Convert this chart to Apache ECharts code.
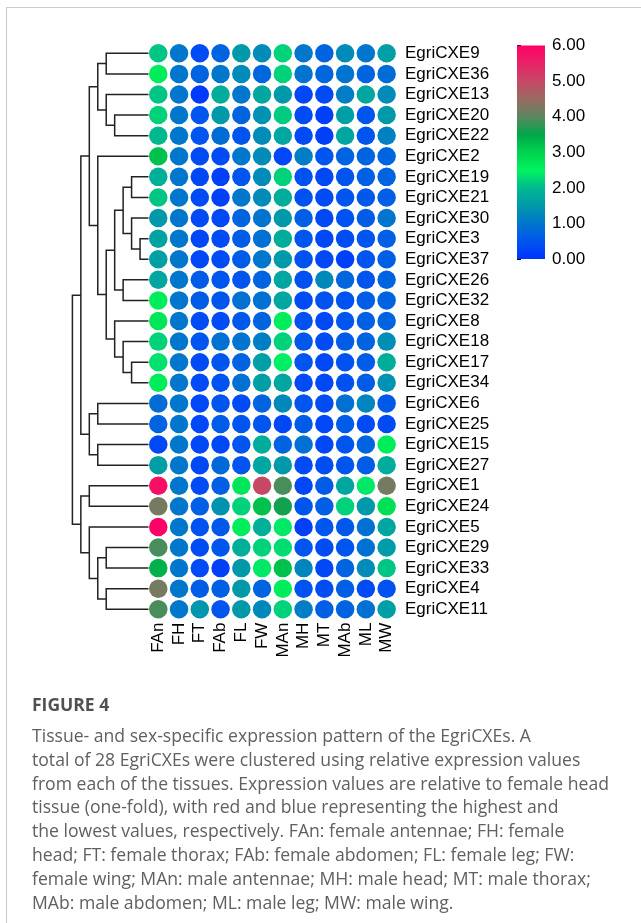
<!DOCTYPE html>
<html>
<head>
    <meta charset="utf-8">
    <script src="https://cdn.jsdelivr.net/npm/echarts@6/dist/echarts.min.js"></script>
</head>
<body style="margin:0;background:#fff">
<div id="main" style="width:641px;height:923px"></div>
<script type="text/javascript">
    // genes in row order (top to bottom), tissues in column order
    var genes = ['EgriCXE9', 'EgriCXE36', 'EgriCXE13', 'EgriCXE20', 'EgriCXE22', 'EgriCXE2', 'EgriCXE19',
        'EgriCXE21', 'EgriCXE30', 'EgriCXE3', 'EgriCXE37', 'EgriCXE26', 'EgriCXE32', 'EgriCXE8', 'EgriCXE18',
        'EgriCXE17', 'EgriCXE34', 'EgriCXE6', 'EgriCXE25', 'EgriCXE15', 'EgriCXE27', 'EgriCXE1', 'EgriCXE24',
        'EgriCXE5', 'EgriCXE29', 'EgriCXE33', 'EgriCXE4', 'EgriCXE11'];
    var tissues = ['FAn', 'FH', 'FT', 'FAb', 'FL', 'FW', 'MAn', 'MH', 'MT', 'MAb', 'ML', 'MW'];

    // relative expression, one row per gene
    var expression = [
        [2.1, 1.0, 0.35, 0.7, 1.5, 1.3, 2.2, 1.0, 0.7, 1.3, 1.0, 1.6],
        [2.6, 1.0, 0.7, 1.0, 1.3, 0.75, 2.2, 0.95, 0.75, 0.95, 0.7, 0.85],
        [2.1, 1.0, 0.1, 1.8, 1.0, 1.7, 1.5, 0.3, 0.35, 1.1, 1.7, 1.3],
        [2.2, 1.0, 0.5, 1.5, 0.7, 1.4, 2.15, 0.35, 0.2, 1.6, 0.5, 1.5],
        [2.0, 1.0, 0.5, 0.85, 0.5, 1.3, 1.7, 0.35, 0.2, 1.7, 0.5, 1.15],
        [3.2, 1.0, 0.35, 0.35, 1.0, 1.3, 0.3, 1.1, 0.5, 0.7, 0.7, 0.7],
        [1.85, 1.0, 0.3, 0.2, 0.5, 1.3, 2.2, 0.45, 0.3, 0.5, 0.65, 0.7],
        [2.1, 1.0, 0.35, 0.2, 1.0, 1.3, 1.8, 0.45, 0.35, 0.5, 0.55, 0.65],
        [1.5, 1.0, 0.35, 0.3, 0.7, 0.95, 1.5, 0.65, 0.3, 0.45, 0.6, 0.95],
        [1.65, 1.0, 0.3, 0.35, 0.6, 0.9, 1.8, 0.5, 0.3, 0.4, 0.5, 0.65],
        [1.6, 1.0, 0.3, 0.35, 0.6, 1.0, 1.5, 0.45, 0.3, 0.2, 0.5, 0.65],
        [1.7, 1.0, 0.6, 0.5, 0.5, 0.7, 1.7, 0.45, 1.25, 0.75, 0.5, 0.7],
        [2.6, 1.0, 0.6, 0.5, 0.9, 0.9, 1.7, 0.35, 0.45, 0.45, 0.6, 0.7],
        [2.7, 1.0, 0.35, 0.35, 0.55, 0.7, 2.6, 0.45, 0.3, 0.5, 0.65, 0.7],
        [2.2, 1.0, 0.5, 0.9, 0.95, 1.1, 2.2, 0.55, 0.35, 0.6, 0.7, 1.35],
        [2.35, 1.0, 0.35, 0.5, 0.7, 1.6, 2.45, 0.5, 0.3, 0.45, 0.6, 1.8],
        [2.6, 1.0, 0.35, 0.45, 0.9, 1.6, 1.7, 0.35, 0.3, 0.45, 0.6, 1.4],
        [0.85, 1.0, 0.3, 0.5, 0.35, 0.7, 1.25, 0.5, 0.4, 0.9, 1.2, 0.55],
        [0.7, 1.0, 0.3, 0.6, 0.5, 0.5, 0.3, 0.6, 0.3, 0.6, 0.35, 0.35],
        [0.3, 1.0, 0.3, 0.3, 0.5, 1.8, 0.7, 0.9, 0.3, 0.5, 0.7, 2.6],
        [1.6, 1.0, 0.3, 0.8, 0.5, 1.7, 1.5, 0.35, 0.4, 0.5, 0.6, 1.8],
        [5.8, 1.0, 0.35, 0.65, 2.7, 5.0, 3.9, 0.3, 0.6, 1.7, 2.4, 4.2],
        [4.2, 1.0, 0.65, 1.4, 2.2, 3.2, 3.6, 0.5, 0.65, 2.2, 1.5, 2.8],
        [6.0, 1.0, 0.45, 0.55, 2.6, 1.85, 2.4, 0.2, 0.5, 0.55, 0.9, 1.7],
        [3.9, 1.0, 0.35, 0.5, 1.85, 2.2, 2.3, 0.5, 0.35, 0.5, 0.9, 1.55],
        [3.4, 1.0, 0.35, 0.2, 1.5, 2.4, 3.2, 1.2, 0.3, 0.7, 1.3, 2.1],
        [4.2, 1.0, 0.6, 0.65, 1.5, 0.7, 2.6, 0.45, 0.4, 0.65, 0.35, 0.45],
        [3.9, 1.0, 1.45, 0.5, 1.5, 1.25, 2.2, 1.1, 0.65, 0.7, 0.9, 1.6]
    ];

    // row clustering: [left, right, height]; a string is a gene, a number is an earlier merge
    var merges = [
        ['EgriCXE9', 'EgriCXE36', 5],
        ['EgriCXE20', 'EgriCXE22', 4],
        ['EgriCXE13', 1, 5],
        [0, 2, 6],
        ['EgriCXE19', 'EgriCXE21', 2],
        ['EgriCXE3', 'EgriCXE37', 1],
        ['EgriCXE30', 5, 2],
        [4, 6, 3],
        ['EgriCXE26', 'EgriCXE32', 3],
        [7, 8, 4],
        ['EgriCXE17', 'EgriCXE34', 2],
        ['EgriCXE18', 10, 3],
        ['EgriCXE8', 11, 4],
        [9, 12, 5],
        ['EgriCXE2', 13, 6],
        [3, 14, 7],
        ['EgriCXE6', 'EgriCXE25', 6],
        ['EgriCXE15', 'EgriCXE27', 6],
        [16, 17, 7],
        [15, 18, 8],
        ['EgriCXE1', 'EgriCXE24', 7],
        ['EgriCXE29', 'EgriCXE33', 5],
        ['EgriCXE4', 'EgriCXE11', 5],
        [21, 22, 6],
        ['EgriCXE5', 23, 7],
        [20, 24, 8],
        [19, 25, 9]
    ];

    // colour scale, evenly spaced from 0 to 6
    var scaleMax = 6;
    var scaleColors = ['#0033ff', '#0055ee', '#0077cc', '#0099aa', '#00b98f', '#00f45e', '#00d24e',
        '#00a84a', '#5c8660', '#9a6a62', '#c64866', '#e82268', '#ff0066'];

    var captionTitle = 'FIGURE 4';
    var captionLines = [
        'Tissue- and sex-specific expression pattern of the EgriCXEs. A',
        'total of 28 EgriCXEs were clustered using relative expression values',
        'from each of the tissues. Expression values are relative to female head',
        'tissue (one-fold), with red and blue representing the highest and',
        'the lowest values, respectively. FAn: female antennae; FH: female',
        'head; FT: female thorax; FAb: female abdomen; FL: female leg; FW:',
        'female wing; MAn: male antennae; MH: male head; MT: male thorax;',
        'MAb: male abdomen; ML: male leg; MW: male wing.'
    ];

    var heatData = [];
    expression.forEach(function (row, r) {
        row.forEach(function (v, c) {
            heatData.push([c, r, v]);
        });
    });

    // turn merges into [hLeft, yLeft, hRight, yRight, h] in data space
    var nodePos = [];
    function childPos(ref) {
        if (typeof ref === 'string') return [0, genes.indexOf(ref)];
        return nodePos[ref];
    }
    var treeData = merges.map(function (m) {
        var a = childPos(m[0]), b = childPos(m[1]);
        nodePos.push([m[2], (a[1] + b[1]) / 2]);
        return [a[0], a[1], b[0], b[1], m[2]];
    });

    var font = 'Liberation Sans, Arial, sans-serif';
    var captionFont = 'Open Sans, sans-serif';
    var myChart = echarts.init(document.getElementById('main'));

    var option = {
        animation: false,
        backgroundColor: '#fff',
        grid: [
            {left: 147.9, width: 249.1, top: 43, height: 576.6},
            {left: 72.4, width: 76.1, top: 43, height: 576.6},
            {left: 517, width: 28, top: 45.5, height: 213.5}
        ],
        xAxis: [{
            type: 'category', gridIndex: 0, data: tissues,
            axisLine: {show: false}, axisTick: {show: false}, splitLine: {show: false},
            axisLabel: {rotate: 90, margin: 3, fontSize: 17, color: '#000', fontFamily: font, interval: 0}
        }, {
            type: 'value', gridIndex: 1, min: 0, max: 9, inverse: true, show: false
        }, {
            type: 'value', gridIndex: 2, min: 0, max: 1, show: false
        }],
        yAxis: [{
            type: 'category', gridIndex: 0, data: genes, inverse: true, position: 'right',
            axisLine: {show: false}, axisTick: {show: false}, splitLine: {show: false},
            axisLabel: {margin: 8, fontSize: 17, color: '#000', fontFamily: font, interval: 0}
        }, {
            type: 'value', gridIndex: 1, min: -0.5, max: 27.5, inverse: true, show: false
        }, {
            type: 'value', gridIndex: 2, min: 0, max: scaleMax, interval: 1, position: 'right',
            splitLine: {show: false},
            axisLine: {show: true, lineStyle: {color: '#000', width: 1}},
            axisTick: {show: true, length: 4, lineStyle: {color: '#000'}},
            axisLabel: {
                margin: 7, fontSize: 17, color: '#000', fontFamily: font,
                formatter: function (v) { return v.toFixed(2); }
            }
        }],
        visualMap: {
            show: false, type: 'continuous', min: 0, max: scaleMax, seriesIndex: 0, dimension: 2,
            inRange: {color: scaleColors}
        },
        series: [{
            type: 'scatter',
            xAxisIndex: 0, yAxisIndex: 0,
            symbol: 'circle',
            symbolSize: 18.5,
            itemStyle: {opacity: 1},
            data: heatData
        }, {
            type: 'custom',
            xAxisIndex: 1, yAxisIndex: 1,
            data: treeData,
            renderItem: function (params, api) {
                var p1 = api.coord([api.value(0), api.value(1)]);
                var p2 = api.coord([api.value(4), api.value(1)]);
                var p3 = api.coord([api.value(4), api.value(3)]);
                var p4 = api.coord([api.value(2), api.value(3)]);
                return {
                    type: 'polyline',
                    shape: {points: [p1, p2, p3, p4]},
                    style: {stroke: '#222', lineWidth: 1.5, fill: null}
                };
            }
        }, {
            type: 'custom',
            xAxisIndex: 2, yAxisIndex: 2,
            data: [[0, 0, 1, scaleMax]],
            renderItem: function (params, api) {
                var lo = api.coord([api.value(0), api.value(1)]);
                var hi = api.coord([api.value(2), api.value(3)]);
                var stops = scaleColors.map(function (c, i) {
                    return {offset: i / (scaleColors.length - 1), color: c};
                });
                return {
                    type: 'rect',
                    shape: {x: lo[0], y: hi[1], width: hi[0] - lo[0], height: lo[1] - hi[1]},
                    style: {fill: new echarts.graphic.LinearGradient(0, 1, 0, 0, stops)}
                };
            }
        }],
        graphic: [{
            type: 'line', shape: {x1: 6, y1: 7.5, x2: 641, y2: 7.5},
            style: {stroke: '#cccccc', lineWidth: 1}
        }, {
            type: 'line', shape: {x1: 6.5, y1: 7, x2: 6.5, y2: 923},
            style: {stroke: '#cccccc', lineWidth: 1}
        }, {
            type: 'text', left: 32, top: 697,
            style: {text: captionTitle, fontSize: 17.5, fontWeight: 'bold', fill: '#505050', fontFamily: captionFont}
        }, {
            type: 'text', left: 32, top: 725,
            style: {
                text: captionLines.join('\n'), fontSize: 17.6, lineHeight: 23.8,
                fill: '#606060', fontFamily: captionFont
            }
        }]
    };

    myChart.setOption(option);
</script>
</body>
</html>
